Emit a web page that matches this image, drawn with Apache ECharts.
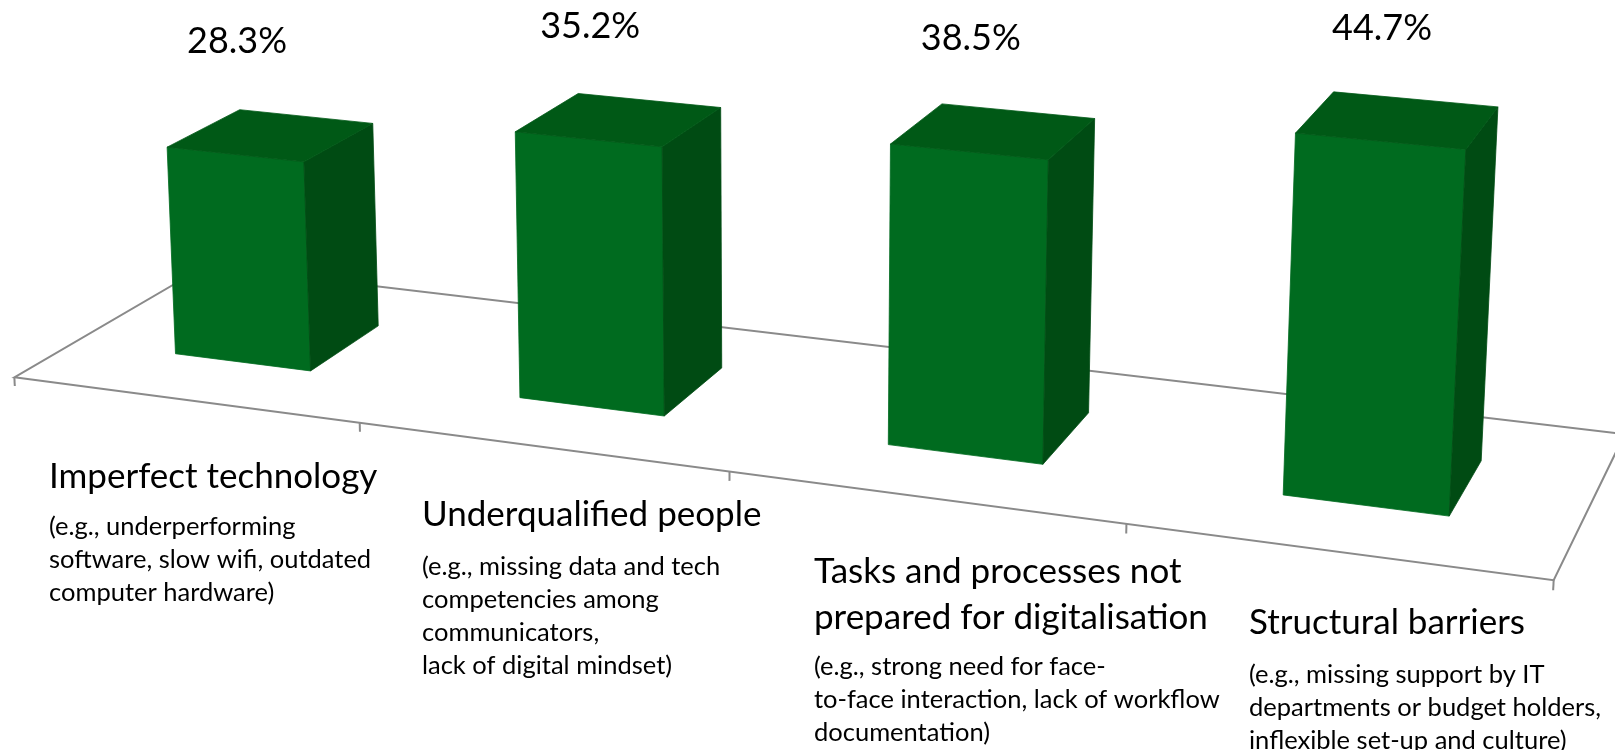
<!DOCTYPE html>
<html>
<head>
<meta charset="utf-8">
<script src="https://cdn.jsdelivr.net/npm/echarts@6/dist/echarts.min.js"></script>
<style>
  html, body { margin: 0; padding: 0; background: #fff; }
  #chart { width: 1615px; height: 750px; }
</style>
</head>
<body>
<div id="chart"></div>
<script>
const categories = [
  'Imperfect technology',
  'Underqualified people',
  'Tasks and processes not\nprepared for digitalisation',
  'Structural barriers',
];
const notes = [
  '(e.g., underperforming\nsoftware, slow wifi, outdated\ncomputer hardware)',
  '(e.g., missing data and tech\ncompetencies among\ncommunicators,\nlack of digital mindset)',
  '(e.g., strong need for face-\nto-face interaction, lack of workflow\ndocumentation)',
  '(e.g., missing support by IT\ndepartments or budget holders,\ninflexible set-up and culture)',
];
const shares = [28.3, 35.2, 38.5, 44.7];

// text block anchors: left x, centre of first title line, centre of first note line
const blockLayout = [[49, 477, 527], [422, 515, 567], [814, 572, 667], [1249, 623, 675]];

// pseudo 3D: world units are grid pixels (x along categories, z up from the value axis, y = depth)
const camera = { f: 3932, cx: 781, cy: 63, yaw: 20.5, pitch: 14.5, pos: [1319, -2101, 840] };
const BAR_RATIO = 0.4;     // bar width / category slot
const DEPTH_RATIO = 1.032; // floor depth / category slot
const LABEL_GAP = 113;     // value label above the front top edge, px

const FONT = 'Lato, "Open Sans", sans-serif';
const COLORS = { front: '#006b1f', side: '#004b13', top: '#005916', floor: '#8a8a8a' };

const rad = Math.PI / 180;
const ca = Math.cos(camera.yaw * rad);
const sa = Math.sin(camera.yaw * rad);
const cb = Math.cos(camera.pitch * rad);
const sb = Math.sin(camera.pitch * rad);

const project = (x, y, z) => {
  const dx = x - camera.pos[0];
  const dy = y - camera.pos[1];
  const dz = z - camera.pos[2];
  const x1 = dx * ca + dy * sa;
  const y1 = -dx * sa + dy * ca;
  const u = dz * cb + y1 * sb;
  const w = y1 * cb - dz * sb;
  return [camera.cx + camera.f * x1 / w, camera.cy - camera.f * u / w];
};

const face = (points, color) => ({
  type: 'polygon',
  shape: { points },
  style: { fill: color, stroke: color, lineWidth: 0.8, lineJoin: 'round' },
});

const renderFloor = (params, api) => {
  const cs = params.coordSys;
  const slot = api.size([1, 0])[0];
  const len = cs.width;
  const depth = slot * DEPTH_RATIO;
  const children = [{
    type: 'polygon',
    shape: { points: [project(0, 0, 0), project(len, 0, 0), project(len, depth, 0), project(0, depth, 0)] },
    style: { stroke: COLORS.floor, lineWidth: 2, fill: null },
  }];
  for (let k = 0; k <= categories.length; k += 1) {
    const a = project(k * slot, 0, 0);
    const b = project(k * slot, 0, -6);
    children.push({
      type: 'line',
      shape: { x1: a[0], y1: a[1], x2: b[0], y2: b[1] },
      style: { stroke: COLORS.floor, lineWidth: 2 },
    });
  }
  return { type: 'group', children };
};

const renderBar = (params, api) => {
  const cs = params.coordSys;
  const idx = api.value(0);
  const val = api.value(1);
  const top = api.coord([idx, val]);
  const base = api.coord([idx, 0]);
  const slot = api.size([1, 0])[0];
  const half = slot * BAR_RATIO / 2;
  const depth = slot * DEPTH_RATIO;
  const x = top[0] - cs.x;
  const h = base[1] - top[1];
  const y0 = depth / 2 - half;
  const y1 = depth / 2 + half;

  const fbl = project(x - half, y0, 0);
  const fbr = project(x + half, y0, 0);
  const ftl = project(x - half, y0, h);
  const ftr = project(x + half, y0, h);
  const bbr = project(x + half, y1, 0);
  const btr = project(x + half, y1, h);
  const btl = project(x - half, y1, h);
  const lbl = project(x, y0, h);

  return {
    type: 'group',
    children: [
      face([fbl, fbr, ftr, ftl], COLORS.front),
      face([fbr, bbr, btr, ftr], COLORS.side),
      face([ftl, ftr, btr, btl], COLORS.top),
      {
        type: 'text',
        x: lbl[0] + 2,
        y: lbl[1] - LABEL_GAP,
        style: {
          text: `${val.toFixed(1)}%`,
          fill: '#000',
          fontSize: 36,
          fontFamily: FONT,
          align: 'center',
          verticalAlign: 'middle',
        },
      },
    ],
  };
};

const blocks = [];
categories.forEach((name, i) => {
  const [left, titleY, noteY] = blockLayout[i];
  blocks.push({
    type: 'text',
    x: left,
    y: titleY - 23,
    style: {
      text: name, fill: '#000', fontSize: 35, fontFamily: FONT, lineHeight: 46, verticalAlign: 'top',
    },
  });
  blocks.push({
    type: 'text',
    x: left,
    y: noteY - 16.5,
    style: {
      text: notes[i], fill: '#000', fontSize: 25.5, fontFamily: FONT, lineHeight: 33, verticalAlign: 'top',
    },
  });
});

const chart = echarts.init(document.getElementById('chart'));
chart.setOption({
  animation: false,
  backgroundColor: '#fff',
  grid: { left: 0, top: 0, width: 1000, height: 251.5 },
  xAxis: { type: 'category', data: categories, show: false },
  yAxis: { type: 'value', min: 0, max: 50, show: false },
  graphic: blocks,
  series: [
    {
      type: 'custom',
      name: 'floor',
      silent: true,
      z: 1,
      renderItem: renderFloor,
      data: [[0, 0]],
    },
    {
      type: 'custom',
      name: 'share',
      silent: true,
      z: 2,
      renderItem: renderBar,
      data: shares.map((v, i) => [i, v]),
    },
  ],
});
</script>
</body>
</html>
